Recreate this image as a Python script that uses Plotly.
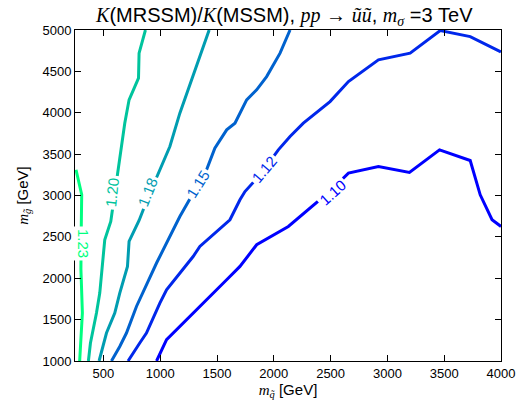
import plotly.graph_objects as go

# contour levels and their paths (m_squark, m_gluino) in GeV
levels = ["1.23", "1.20", "1.18", "1.15", "1.12", "1.10"]
colors = ["#00ff80", "#00c49d", "#009db1", "#0062ce", "#0027eb", "#0000ff"]

c123_x = [259, 309, 305, 300, 302, 315, 300, 291]
c123_y = [3310, 3010, 2606, 2300, 2111, 1580, 1200, 1000]

c120_x = [870, 814, 809, 726, 688, 659, 629, 600, 565, 512, 468, 439, 386, 368]
c120_y = [5000, 4720, 4418, 4156, 3874, 3592, 3310, 3000, 2686, 2465, 1821, 1580, 1217, 1000]

c118_x = [1431, 1364, 1290, 1173, 1085, 990, 900, 814, 726, 712, 644, 600, 527, 462]
c118_y = [5000, 4739, 4437, 3995, 3592, 3290, 3000, 2698, 2445, 2143, 1821, 1580, 1338, 1000]

c115_x = [2143, 2055, 1937, 1849, 1761, 1658, 1585, 1481, 1408, 1290, 1173, 968, 791, 703, 644, 571]
c115_y = [5000, 4720, 4437, 4277, 4156, 3874, 3793, 3572, 3310, 3030, 2746, 2184, 1659, 1338, 1176, 1000]

c112_x = [4000, 3994, 3729, 3465, 3200, 2921, 2657, 2495, 2260, 2143, 2040, 1880, 1746, 1702,
          1614, 1349, 1290, 1056, 997, 879, 820, 717]
c112_y = [4730, 4739, 4920, 4993, 4720, 4639, 4377, 4135, 3874, 3713, 3552, 3250, 3048, 2948,
          2707, 2384, 2263, 1861, 1700, 1338, 1217, 1000]

c110_x = [4000, 3921, 3817, 3729, 3459, 3194, 2921, 2657, 2500, 2304, 2128, 1849, 1702, 1585,
          1320, 1056, 968]
c110_y = [2626, 2707, 3008, 3423, 3552, 3278, 3350, 3270, 3060, 2827, 2626, 2405, 2143, 1982,
          1620, 1257, 1000]

paths_x = [c123_x, c120_x, c118_x, c115_x, c112_x, c110_x]
paths_y = [c123_y, c120_y, c118_y, c115_y, c112_y, c110_y]

# label positions and angles
label_x = [327, 578, 886, 1327, 1915, 2517]
label_y = [2417, 3033, 3039, 3139, 3310, 3039]
label_angle = [90, -84, -68, -58, -50, -42]

x_ticks = [500, 1000, 1500, 2000, 2500, 3000, 3500, 4000]
y_ticks = [1000, 1500, 2000, 2500, 3000, 3500, 4000, 4500, 5000]

SERIF = "Liberation Serif"


def M(s):
    return f'<span style="font-family:{SERIF}"><i>{s}</i></span>'


fig = go.Figure()
for xs, ys, col in zip(paths_x, paths_y, colors):
    fig.add_trace(go.Scatter(x=xs, y=ys, mode="lines",
                             line=dict(color=col, width=3), showlegend=False,
                             hoverinfo="skip"))

for lx, ly, ang, txt, col in zip(label_x, label_y, label_angle, levels, colors):
    fig.add_annotation(x=lx, y=ly, text=txt, textangle=ang, showarrow=False,
                       font=dict(family="Liberation Sans", size=15, color=col),
                       bgcolor="white", borderpad=2)

title = (M("K") + "(MRSSM)/" + M("K") + "(MSSM), " + M("pp") + " \u2192 "
         + M("\u0169\u0169") + ", " + M("m") + "<sub>" + M("\u03c3") + "</sub> =3 TeV")

axis_common = dict(showline=True, linecolor="black", linewidth=1, mirror="allticks",
                   ticks="inside", ticklen=6, tickcolor="black", showgrid=False,
                   zeroline=False, automargin=False,
                   tickfont=dict(family="Liberation Sans", size=13, color="black"))

fig.update_layout(
    width=517, height=406,
    margin=dict(l=75, r=16, t=30, b=45),
    paper_bgcolor="white", plot_bgcolor="white",
    title=dict(text=title, x=0.55, xanchor="center", y=0.963, yanchor="middle",
               font=dict(family="Liberation Sans", size=20, color="black")),
    xaxis=dict(range=[250, 4000], tickvals=x_ticks,
               title=dict(text=M("m") + "<sub>" + M("q\u0303") + "</sub> [GeV]",
                          font=dict(family="Liberation Sans", size=15, color="black"),
                          standoff=2),
               **axis_common),
    yaxis=dict(range=[1000, 5000], tickvals=y_ticks,
               title=dict(text=M("m") + "<sub>" + M("g\u0303") + "</sub> [GeV]",
                          font=dict(family="Liberation Sans", size=15, color="black"),
                          standoff=10),
               **axis_common),
)

fig.write_html("out.html")
